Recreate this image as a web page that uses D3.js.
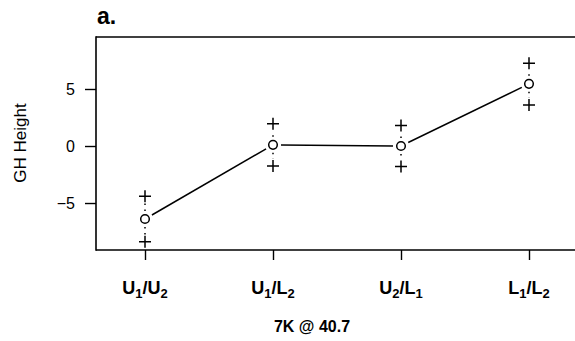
<!DOCTYPE html>
<html>
<head>
<meta charset="utf-8">
<script src="https://cdn.jsdelivr.net/npm/d3@7"></script>
<style>
  body { margin: 0; background: #fff; overflow: hidden; }
  svg { display: block; overflow: hidden; }
  text { font-family: "Liberation Sans", Arial, sans-serif; fill: #000; }
</style>
</head>
<body>
<div id="PlotArea"></div>
<script>
// data
var categories = ["U1/U2", "U1/L2", "U2/L1", "L1/L2"];
var meanValues = [-6.4, 0.1, 0.0, 5.45];
var upperValues = [-4.4, 1.95, 1.8, 7.25];
var lowerValues = [-8.4, -1.75, -1.8, 3.6];
var yTicks = [-5, 0, 5];
var panelTitle = "a.";
var xTitle = "7K @ 40.7";
var yTitle = "GH Height";

var W = 575, H = 341;
var mLeft = 96, mTop = 37, mBottom = 250;

var svg = d3.select("#PlotArea").append("svg")
    .attr("width", W).attr("height", H);

var xscale = d3.scalePoint().domain(categories).range([145, 529]);
var yscale = d3.scaleLinear().domain([-9.12, 9.56]).range([mBottom, mTop]);

// box: top, left and bottom sides (right side is off the picture)
svg.append("line").attr("x1", mLeft).attr("x2", W).attr("y1", mTop).attr("y2", mTop)
    .attr("stroke", "#000").attr("stroke-width", 1.6);
svg.append("line").attr("x1", mLeft).attr("x2", W).attr("y1", mBottom).attr("y2", mBottom)
    .attr("stroke", "#000").attr("stroke-width", 1.6);
svg.append("line").attr("x1", mLeft).attr("x2", mLeft).attr("y1", mTop - 0.8).attr("y2", mBottom + 0.8)
    .attr("stroke", "#000").attr("stroke-width", 1.6);

// y axis
var y_axis = d3.axisLeft(yscale).tickValues(yTicks).tickSize(11).tickPadding(10)
    .tickFormat(function(d){ return d < 0 ? "\u2212" + Math.abs(d) : d; });
var gy = svg.append("g").attr("transform", "translate(" + mLeft + ",0)").call(y_axis);
gy.select(".domain").remove();
gy.selectAll("line").attr("stroke-width", 1.4);
gy.selectAll("text").style("font-size", "16px");
gy.attr("font-family", null).attr("font-size", null);

// x axis
var x_axis = d3.axisBottom(xscale).tickSize(10).tickFormat("");
var gx = svg.append("g").attr("transform", "translate(0," + mBottom + ")").call(x_axis);
gx.select(".domain").remove();
gx.selectAll("line").attr("stroke-width", 1.4);

// tick labels with subscripts
categories.forEach(function(c) {
  var t = svg.append("text")
      .attr("x", xscale(c)).attr("y", 294)
      .attr("text-anchor", "middle")
      .style("font-size", "18px").style("font-weight", "bold");
  var parts = c.match(/[A-Za-z]+|\d+|\//g);
  var down = false;
  parts.forEach(function(p) {
    var isSub = /^\d+$/.test(p);
    var ts = t.append("tspan").text(p);
    if (isSub && !down) { ts.attr("dy", 4).style("font-size", "13px"); down = true; }
    else if (isSub) { ts.style("font-size", "13px"); }
    else if (down) { ts.attr("dy", -4); down = false; }
  });
});

// titles
svg.append("text").attr("x", 312).attr("y", 332).attr("text-anchor", "middle")
    .style("font-size", "16px").style("font-weight", "bold").text(xTitle);
svg.append("text").attr("transform", "translate(26,143) rotate(-90)")
    .attr("text-anchor", "middle").style("font-size", "17px").text(yTitle);
svg.append("text").attr("x", 97).attr("y", 24)
    .style("font-size", "23px").style("font-weight", "bold").text(panelTitle);

var pts = categories.map(function(c, i) {
  return { x: xscale(c), m: yscale(meanValues[i]), u: yscale(upperValues[i]), l: yscale(lowerValues[i]) };
});

// connecting line, broken near each circle
var gap = 8;
for (var i = 0; i < pts.length - 1; i++) {
  var a = pts[i], b = pts[i + 1];
  var dx = b.x - a.x, dy = b.m - a.m, len = Math.sqrt(dx * dx + dy * dy);
  svg.append("line")
      .attr("x1", a.x + dx / len * gap).attr("y1", a.m + dy / len * gap)
      .attr("x2", b.x - dx / len * gap).attr("y2", b.m - dy / len * gap)
      .attr("stroke", "#000").attr("stroke-width", 1.5);
}

// dotted segments between circle and crosses
pts.forEach(function(p) {
  [p.u, p.l].forEach(function(e) {
    var s = e < p.m ? 1 : -1;
    svg.append("line")
        .attr("x1", p.x).attr("y1", p.m - s * 8)
        .attr("x2", p.x).attr("y2", e + s * 7)
        .attr("stroke", "#000").attr("stroke-width", 1.5)
        .attr("stroke-dasharray", "1.5,4.5");
  });
});

// circles
svg.selectAll(".pt").data(pts).enter().append("circle")
    .attr("cx", function(d){ return d.x; }).attr("cy", function(d){ return d.m; })
    .attr("r", 4.3).attr("fill", "none").attr("stroke", "#000").attr("stroke-width", 1.5);

// crosses
var crosses = [];
pts.forEach(function(p){ crosses.push({x: p.x, y: p.u}); crosses.push({x: p.x, y: p.l}); });
svg.selectAll(".cross").data(crosses).enter().append("path")
    .attr("d", function(d){ return "M" + (d.x - 6) + "," + d.y + "h12M" + d.x + "," + (d.y - 6) + "v12"; })
    .attr("stroke", "#000").attr("stroke-width", 1.5).attr("fill", "none");
</script>
</body>
</html>
